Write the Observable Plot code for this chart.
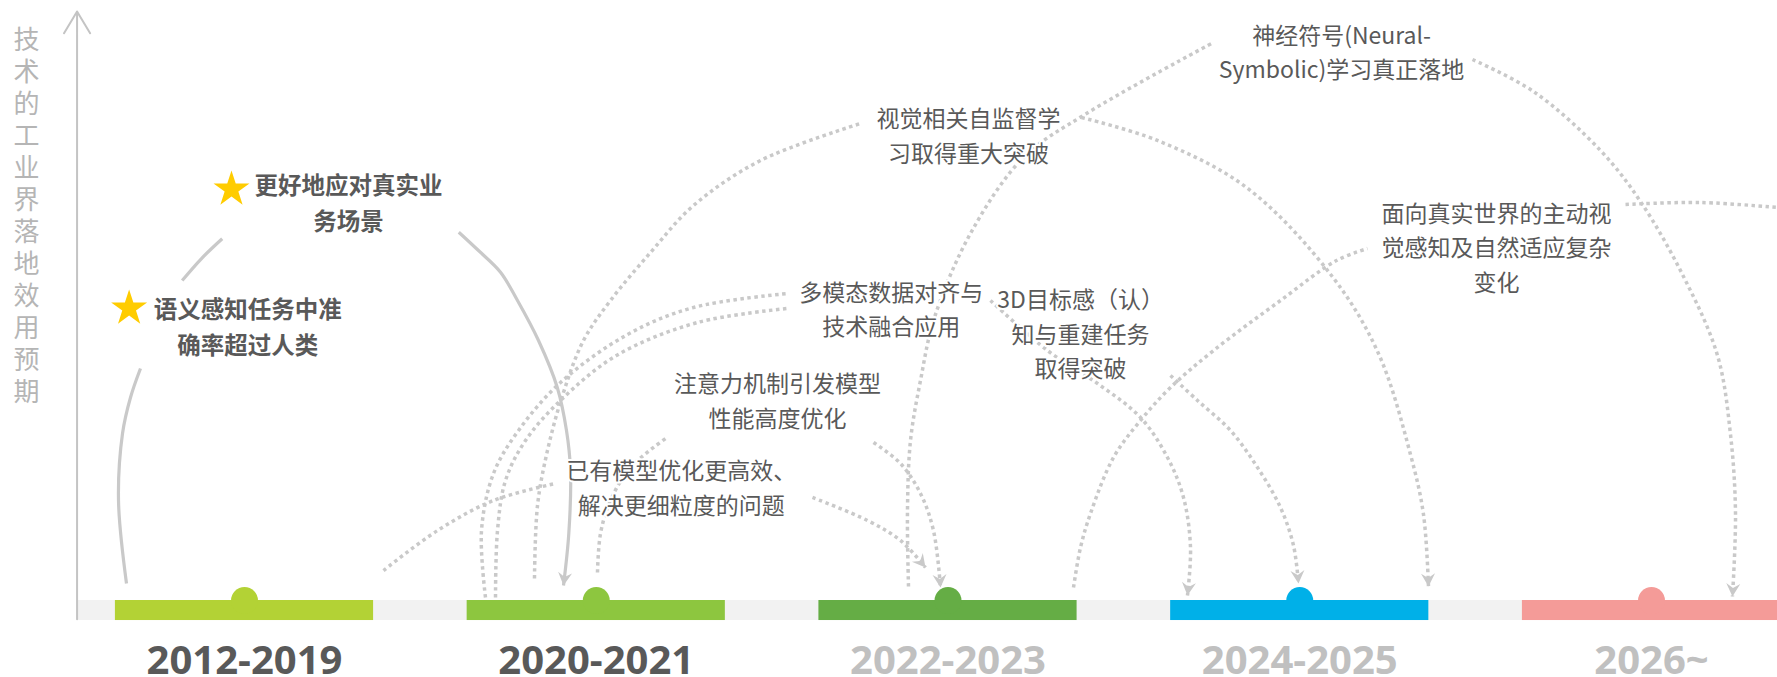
<!DOCTYPE html>
<html>
<head>
<meta charset="utf-8">
<script src="https://cdn.jsdelivr.net/npm/d3@7"></script>
<script src="https://cdn.jsdelivr.net/npm/@observablehq/plot@0.6"></script>
<style>
html, body { margin: 0; padding: 0; background: #ffffff; overflow: hidden; }
#chart svg { display: block; overflow: hidden; }
</style>
</head>
<body>
<div id="chart"></div>
<script>
// ---------------- data ----------------
// periods on the timeline (x = period index)
const periods = ["2012-2019", "2020-2021", "2022-2023", "2024-2025", "2026~"];
const periodPos = [0, 1, 2, 3, 4];

// y axis title (vertical)
const yAxisTitle = "技术的工业界落地效用预期";

// achieved milestones (stars) : x in period units, y = expected industrial impact level (0-100)
const milestoneLabels = ["语义感知任务中准\n确率超过人类", "更好地应对真实业\n务场景"];
const milestoneX = [0.009, 0.296];
const milestoneY = [46.9, 67.9];
const starX = [-0.328, -0.037];
const starY = [49.6, 69.8];

// outlook annotations
const outlookLabels = [
  "已有模型优化更高效、\n解决更细粒度的问题",
  "注意力机制引发模型\n性能高度优化",
  "多模态数据对齐与\n技术融合应用",
  "3D目标感（认）\n知与重建任务\n取得突破",
  "视觉相关自监督学\n习取得重大突破",
  "神经符号(Neural-\nSymbolic)学习真正落地",
  "面向真实世界的主动视\n觉感知及自然适应复杂\n变化"
];
const outlookX = [1.242, 1.515, 1.839, 2.377, 2.058, 3.119, 3.559];
const outlookY = [19.5, 34.3, 49.8, 45.6, 79.3, 93.5, 60.3];

// solid path of achieved milestones (broken where the labels sit)
const solidLower = [[-0.3355, 2.89], [-0.3582, 16.98], [-0.3468, 28.35], [-0.3241, 34.47], [-0.2957, 39.39]];
const solidMiddle = [[-0.1771, 54.33], [-0.1222, 58.06], [-0.0634, 61.41]];
const solidUpper = [[0.6092, 62.53], [0.6652, 59.42], [0.7278, 55.74], [0.7761, 50.93], [0.8358, 44.14],
  [0.8890, 36.21], [0.9154, 28.86], [0.9268, 22.07], [0.9220, 11.38], [0.9069, 2.55]];

// dotted arcs rising from the period where a technology starts
const originYiyou = [[0.3952, 5.09], [0.5487, 11.88], [0.7079, 16.98], [0.8841, 19.86]];
const originZhuyi = [[1.0035, 4.75], [1.0121, 11.38], [1.0405, 16.98], [1.0974, 22.58], [1.1969, 27.50]];
const originShijue = [[0.8244, 3.74], [0.8330, 16.13], [0.8614, 25.47], [0.9040, 34.80], [0.9637, 44.14],
  [1.0405, 50.93], [1.1542, 59.08], [1.2765, 67.06], [1.4669, 74.70], [1.7512, 80.98]];
const originDuoA = [[0.6851, 0.51], [0.6738, 11.88], [0.7079, 21.56], [0.7790, 28.86], [0.8984, 37.01],
  [1.0888, 45.16], [1.2765, 49.75], [1.5437, 52.12]];
const originDuoB = [[0.7136, 0.51], [0.7193, 11.88], [0.7420, 20.37], [0.7989, 27.16], [0.8984, 33.96],
  [1.0576, 41.60], [1.2878, 47.20], [1.5437, 49.58]];
const originShenjing = [[1.8877, 2.38], [1.8848, 15.28], [1.8934, 27.16], [1.9218, 37.35], [1.9616, 48.05],
  [2.0639, 62.31], [2.2146, 75.21], [2.3937, 82.68], [2.7491, 94.57]];
const originMianxiang = [[2.3568, 2.21], [2.3767, 9.00], [2.4051, 14.77], [2.4705, 24.28], [2.5472, 30.56],
  [2.6325, 36.16], [2.7548, 42.44], [2.9452, 50.93], [3.1045, 57.72], [3.1926, 59.76]];
const onwardMianxiang = [[3.9261, 67.23], [4.1393, 67.57], [4.3951, 66.55]];

// dotted arcs landing (arrow) on the period where a technology is expected to land
const landYiyou = [[1.6148, 17.49], [1.7711, 13.58], [1.8649, 10.19], [1.9360, 5.60]];
const landZhuyi = [[1.7882, 26.83], [1.8649, 23.26], [1.9218, 18.17], [1.9587, 11.88], [1.9787, 2.21]];
const landDuo = [[2.1208, 50.93], [2.2828, 42.44], [2.4250, 36.84], [2.5472, 31.07], [2.6240, 24.28],
  [2.6695, 17.49], [2.6894, 9.00], [2.6808, 0.85]];
const land3D = [[2.6325, 38.20], [2.7093, 33.96], [2.8031, 28.86], [2.8799, 22.58], [2.9452, 15.79],
  [2.9822, 9.34], [2.9964, 2.89]];
const landShijue = [[2.3795, 82.00], [2.5956, 78.10], [2.8486, 70.12], [3.0902, 55.18], [3.2238, 41.94],
  [3.3148, 24.79], [3.3518, 14.60], [3.3660, 2.38]];
const landShenjing = [[3.4911, 91.85], [3.6645, 86.42], [3.8550, 76.40], [3.9687, 67.74], [4.0909, 55.01],
  [4.1876, 41.60], [4.2246, 28.18], [4.2388, 14.77], [4.2302, 0.68]];

// axis / track extents (period units, level units)
const axisX = [-0.476];
const axisBottom = -3.2;
const axisTop = 100;
const trackEnd = 4.36;
const barHalf = 0.367;
const barDepth = -3.4;
const yearBaseline = -12.4;
const titleX = -0.62;
const titleTop = 97.6;

// ---------------- styles ----------------
const barColors = ["#b3d235", "#8dc63f", "#65ad45", "#00b0e8", "#f49b98"];
const yearColors = ["#595959", "#595959", "#c0c0c0", "#c0c0c0", "#c0c0c0"];
const arcColor = "#c9c9c9";
const textColor = "#595959";
const cjk = "'Noto Sans CJK SC', 'Noto Sans', sans-serif";

// ---------------- helpers ----------------
const toRows = (arcs) => arcs.flatMap((pts, k) => pts.map(([x, y]) => ({k, x, y})));

function arrowHead(color, context) {
  const doc = context.document;
  const ns = "http://www.w3.org/2000/svg";
  const m = doc.createElementNS(ns, "marker");
  m.setAttribute("viewBox", "-15 -8 17 16");
  m.setAttribute("refX", 0);
  m.setAttribute("refY", 0);
  m.setAttribute("markerWidth", 17);
  m.setAttribute("markerHeight", 16);
  m.setAttribute("markerUnits", "userSpaceOnUse");
  m.setAttribute("orient", "auto");
  const p = doc.createElementNS(ns, "path");
  p.setAttribute("d", "M0,0L-13,-7L-8.5,0L-13,7Z");
  p.setAttribute("fill", color);
  p.setAttribute("stroke", "none");
  p.setAttribute("stroke-dasharray", "none");
  m.appendChild(p);
  return m;
}

const dotted = {x: "x", y: "y", z: "k", curve: "catmull-rom", stroke: arcColor,
  strokeWidth: 3.5, strokeDasharray: "3.5,3.5", strokeLinecap: "butt"};
const solid = {x: "x", y: "y", z: "k", curve: "catmull-rom", stroke: arcColor,
  strokeWidth: 3.2, strokeLinecap: "butt"};

const chart = Plot.plot({
  width: 1777,
  height: 677,
  margin: 0,
  x: {domain: [0, 4], range: [244, 1651], axis: null},
  y: {domain: [0, 100], range: [600, 11], axis: null},
  style: {background: "#ffffff", overflow: "hidden"},
  marks: [
    // grey track
    Plot.rect(axisX, {x1: (d) => d, x2: () => trackEnd, y1: () => 0, y2: () => barDepth, fill: "#f2f2f2"}),
    // period bars and bumps
    Plot.rect(periodPos, {x1: (d) => d - barHalf, x2: (d) => d + barHalf, y1: () => 0, y2: () => barDepth,
      fill: (d, i) => barColors[i]}),
    Plot.dot(periodPos, {x: (d) => d, y: () => 0, r: 13.5, fill: (d, i) => barColors[i]}),
    // dotted arcs
    Plot.line(toRows([originYiyou, originZhuyi, originShijue, originDuoA, originDuoB,
      originShenjing, originMianxiang, onwardMianxiang]), dotted),
    Plot.line(toRows([landYiyou, landZhuyi, landDuo, land3D, landShijue, landShenjing]),
      {...dotted, markerEnd: arrowHead}),
    // solid path
    Plot.line(toRows([solidLower, solidMiddle]), solid),
    Plot.line(toRows([solidUpper]), {...solid, markerEnd: arrowHead}),
    // y axis
    Plot.arrow(axisX, {x1: (d) => d, x2: (d) => d, y1: () => axisBottom, y2: () => axisTop,
      stroke: "#c4c4c4", strokeWidth: 2, headLength: 19, headAngle: 62}),
    // y title (first text mark)
    Plot.text([yAxisTitle], {x: () => titleX, y: () => titleTop, text: (d) => d,
      textAnchor: "start", lineAnchor: "bottom", fontSize: 26, fill: "#b5b5b5", fontFamily: cjk}),
    // outlook annotations
    Plot.text(outlookLabels, {x: (d, i) => outlookX[i], y: (d, i) => outlookY[i], text: (d) => d,
      fontSize: 23, lineHeight: 1.5, fill: textColor, fontFamily: cjk, stroke: "#ffffff", strokeWidth: 4}),
    // milestones
    Plot.text(milestoneLabels, {x: (d, i) => milestoneX[i], y: (d, i) => milestoneY[i], text: (d) => d,
      fontSize: 23.5, lineHeight: 1.52, fontWeight: "bold", fill: textColor, fontFamily: cjk,
      stroke: "#ffffff", strokeWidth: 4}),
    Plot.dot(starX, {x: (d) => d, y: (d, i) => starY[i], symbol: "star", r: 11.3, fill: "#ffcc00"}),
    // period labels
    Plot.text(periodPos, {x: (d) => d, y: () => yearBaseline, text: (d, i) => periods[i],
      lineAnchor: "bottom", fontSize: 40, fontWeight: "bold", fontFamily: "'Open Sans', sans-serif",
      fill: (d, i) => yearColors[i]})
  ]
});
// the y-axis title is written vertically, one upright character under another
const titleText = chart.querySelector('g[aria-label="text"] text');
if (titleText) {
  titleText.setAttribute("writing-mode", "vertical-rl");
  titleText.style.writingMode = "vertical-rl";
  titleText.style.textOrientation = "upright";
  titleText.style.letterSpacing = "6px";
}
document.getElementById("chart").appendChild(chart);
</script>
</body>
</html>
